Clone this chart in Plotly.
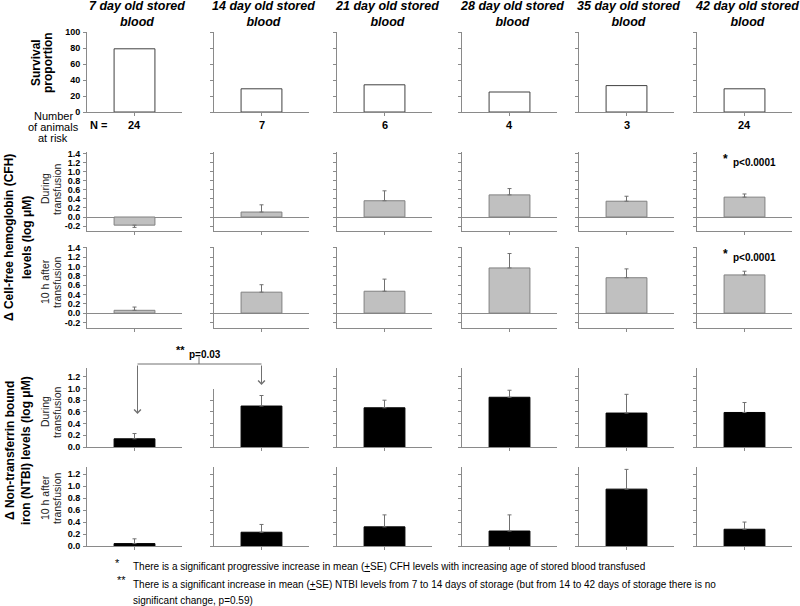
import plotly.graph_objects as go

# ---------------- data ----------------
col_titles = ["7 day old stored", "14 day old stored", "21 day old stored",
              "28 day old stored", "35 day old stored", "42 day old stored"]
n_at_risk = [24, 7, 6, 4, 3, 24]
survival = [79, 29, 34, 25, 33, 29]
cfh_during = [-0.18, 0.11, 0.36, 0.49, 0.35, 0.44]
cfh_during_se = [0.05, 0.16, 0.22, 0.14, 0.11, 0.07]
cfh_10h = [0.06, 0.45, 0.47, 0.97, 0.76, 0.82]
cfh_10h_se = [0.07, 0.16, 0.26, 0.31, 0.19, 0.08]
ntbi_during = [0.14, 0.70, 0.67, 0.85, 0.58, 0.59]
ntbi_during_se = [0.09, 0.18, 0.13, 0.12, 0.32, 0.17]
ntbi_10h = [0.04, 0.23, 0.32, 0.25, 0.95, 0.28]
ntbi_10h_se = [0.08, 0.13, 0.20, 0.27, 0.33, 0.12]

surv_ticks = [0, 20, 40, 60, 80, 100]
cfh_ticks = [-0.2, 0.0, 0.2, 0.4, 0.6, 0.8, 1.0, 1.2, 1.4]
ntbi_ticks = [0.0, 0.2, 0.4, 0.6, 0.8, 1.0, 1.2]

# ---------------- layout geometry (pixels) ----------------
W, H = 800, 606
col_left = [87, 214, 337, 462, 579, 697]
col_w = 95
rows = [
    dict(top=32, bot=112, rng=[0, 100], ticks=surv_ticks, fmt="{:d}", vals=survival, se=None,
         fill="white", line="#404040", zero=False),
    dict(top=152, bot=231, rng=[-0.31, 1.44], ticks=cfh_ticks, fmt="{:.1f}", vals=cfh_during,
         se=cfh_during_se, fill="#c0c0c0", line="#808080", zero=True),
    dict(top=247, bot=328, rng=[-0.32, 1.42], ticks=cfh_ticks, fmt="{:.1f}", vals=cfh_10h,
         se=cfh_10h_se, fill="#c0c0c0", line="#808080", zero=True),
    dict(top=368, bot=447, rng=[0, 1.35], ticks=ntbi_ticks, fmt="{:.1f}", vals=ntbi_during,
         se=ntbi_during_se, fill="black", line="black", zero=False),
    dict(top=467, bot=546, rng=[0, 1.32], ticks=ntbi_ticks, fmt="{:.1f}", vals=ntbi_10h,
         se=ntbi_10h_se, fill="black", line="black", zero=False),
]

def px(x):
    return x / W

def py(y):
    return 1 - y / H

AX = "#8a8a8a"
FONT = "Liberation Sans, Arial, sans-serif"

fig = go.Figure()
layout = dict(width=W, height=H, autosize=False,
              margin=dict(l=0, r=0, t=0, b=0, pad=0, autoexpand=False),
              paper_bgcolor="white", plot_bgcolor="white", showlegend=False,
              font=dict(family=FONT, color="black"))

for r, row in enumerate(rows):
    for c in range(6):
        k = r * 6 + c + 1
        xs = "" if k == 1 else str(k)
        v = row["vals"][c]
        err = None
        if row["se"] is not None:
            s = row["se"][c]
            if v >= 0:
                err = dict(type="data", symmetric=False, array=[s], arrayminus=[0],
                           color="#707070", thickness=1, width=2)
            else:
                err = dict(type="data", symmetric=False, array=[0], arrayminus=[s],
                           color="#707070", thickness=1, width=2)
        fig.add_trace(go.Bar(x=[0.5], y=[v], width=[0.43], xaxis="x" + xs, yaxis="y" + xs,
                             marker=dict(color=row["fill"], line=dict(color=row["line"], width=1)),
                             error_y=err, hoverinfo="skip"))
        layout["xaxis" + xs] = dict(
            domain=[px(col_left[c]), px(col_left[c] + col_w)], range=[0, 1],
            anchor="y" + xs, showline=True, linecolor=AX, linewidth=1,
            ticks="outside", tickvals=[0.5], ticklen=3, tickcolor=AX, automargin=False,
            showticklabels=False, showgrid=False, zeroline=False, fixedrange=True)
        ya = dict(
            domain=[py(row["bot"]), py(row["top"])], range=row["rng"],
            anchor="x" + xs, showline=True, linecolor=AX, linewidth=1, automargin=False,
            ticks="outside", ticklen=3, tickcolor=AX, tickvals=row["ticks"],
            showgrid=False, zeroline=row["zero"], zerolinecolor=AX, zerolinewidth=1,
            fixedrange=True)
        if c == 0:
            ya["ticktext"] = [row["fmt"].format(t) for t in row["ticks"]]
            ya["tickfont"] = dict(size=9, family=FONT, color="black", weight="bold")
            ya["ticklabelstandoff"] = 1
        else:
            ya["showticklabels"] = False
        layout["yaxis" + xs] = ya

fig.update_layout(**layout)

ann = []

def text(x, y, t, size=11, bold=False, italic=False, angle=0, xanchor="center", color="black"):
    if bold:
        t = "<b>" + t + "</b>"
    if italic:
        t = "<i>" + t + "</i>"
    ann.append(dict(x=px(x), y=py(y), xref="paper", yref="paper", text=t, showarrow=False,
                    textangle=angle, xanchor=xanchor, yanchor="middle",
                    font=dict(size=size, family=FONT, color=color)))

# column titles
for c, t in enumerate(col_titles):
    cx = col_left[c] + col_w / 2 + 2
    text(cx, 14.5, t + "<br>blood", size=12.5, bold=True, italic=True)

# N at risk
text(88, 125, "N =", size=11, bold=True, xanchor="left")
for c, n in enumerate(n_at_risk):
    text(col_left[c] + col_w / 2, 125, str(n), size=11, bold=True)
text(53, 116, "Number", size=11)
text(53, 127, "of animals", size=11)
text(53, 138, "at risk", size=11)

# row labels
text(36, 63, "Survival", size=12, bold=True, angle=-90)
text(48, 63, "proportion", size=12, bold=True, angle=-90)

text(9, 238, "\u0394 Cell-free hemoglobin (CFH)", size=12, bold=True, angle=-90)
text(27, 238, "levels (log \u03bcM)", size=12, bold=True, angle=-90)

text(10, 451, "\u0394 Non-transferrin bound", size=12, bold=True, angle=-90)
text(26, 451, "iron (NTBI) levels (log \u03bcM)", size=12, bold=True, angle=-90)

for yc, l1 in [(189, "During"), (282, "10 h after"), (412, "During"), (498, "10 h after")]:
    text(45, yc, l1, size=10.5, angle=-90, color="#222")
    text(57, yc, "transfusion", size=10.5, angle=-90, color="#222")

# p-value annotations
for yc in (162, 257):
    text(725, yc - 3, "*", size=12, bold=True)
    text(731, yc, "p<0.0001", size=10, bold=True, xanchor="left")

text(180, 350, "**", size=11, bold=True)
text(187, 354, "p=0.03", size=10, bold=True, xanchor="left")

# bracket
x_a = col_left[0] + col_w / 2 + 3
x_b = col_left[1] + col_w / 2
y_br = 364
shapes = [
    dict(type="line", xref="paper", yref="paper", x0=px(x_a), x1=px(x_b), y0=py(y_br), y1=py(y_br),
         line=dict(color="#707070", width=1)),
    dict(type="line", xref="paper", yref="paper", x0=px(199), x1=px(199), y0=py(357), y1=py(y_br),
         line=dict(color="#707070", width=1)),
    # gap in the 14-day NTBI axis behind the bracket arrow
    dict(type="rect", xref="paper", yref="paper", x0=px(210), x1=px(217), y0=py(389), y1=py(366),
         fillcolor="white", line=dict(width=0), layer="above"),
]
for xt, yt in [(x_a, 414), (x_b, 385)]:
    ann.append(dict(x=px(xt), y=py(yt), xref="paper", yref="paper", text="", showarrow=True,
                    ax=0, ay=-(yt - y_br), arrowhead=4, arrowsize=1.3, arrowwidth=1,
                    arrowcolor="#707070", standoff=0))

# footnotes
text(117, 563, "*", size=11, bold=False, xanchor="center")
text(131, 566, "There is a significant progressive increase in mean (<u>+</u>SE) CFH levels with increasing age of stored blood transfused",
     size=10, xanchor="left")
text(121, 580, "**", size=11, xanchor="center")
text(131, 584, "There is a significant increase in mean (<u>+</u>SE) NTBI levels from 7 to 14 days of storage (but from 14 to 42 days of storage there is no",
     size=10, xanchor="left")
text(131, 600, "significant change, p=0.59)", size=10, xanchor="left")

fig.update_layout(annotations=ann, shapes=shapes)
fig.write_html("out.html", config={"displayModeBar": False},
               post_script="document.body.style.margin='0px';document.body.style.padding='0px';")
